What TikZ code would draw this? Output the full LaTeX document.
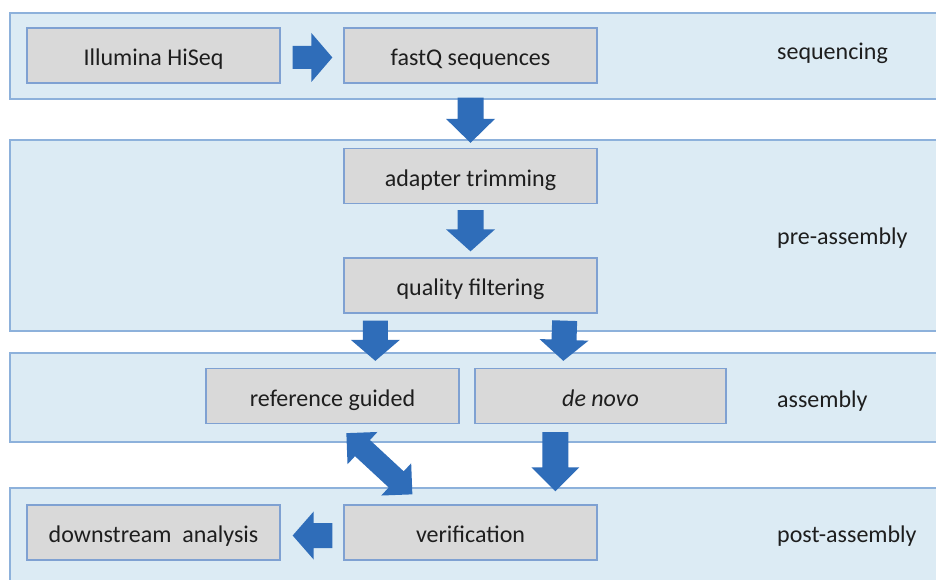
\documentclass[tikz,border=0pt]{standalone}
\usepackage{fontspec}
\setmainfont{Carlito}
\usetikzlibrary{calc}
\definecolor{bandfill}{HTML}{DCEBF4}
\definecolor{banddraw}{HTML}{8DB1DB}
\definecolor{boxfill}{HTML}{D9D9D9}
\definecolor{boxdraw}{HTML}{7FA1D2}
\definecolor{arrowblue}{HTML}{2F6DB9}
\definecolor{txt}{HTML}{1E1E1E}
\newcommand{\blockarr}[5]{%
  \coordinate (bh) at ($(#2)!#5!(#1)$);
  \fill[arrowblue] ($(#1)!#3!90:(#2)$) -- ($(bh)!#3!90:(#2)$) -- ($(bh)!#4!90:(#2)$) -- (#2)
    -- ($(bh)!#4!-90:(#2)$) -- ($(bh)!#3!-90:(#2)$) -- ($(#1)!#3!-90:(#2)$) -- cycle;}
\newcommand{\dblarr}[5]{%
  \coordinate (ha) at ($(#1)!#5!(#2)$);
  \coordinate (hb) at ($(#2)!#5!(#1)$);
  \fill[arrowblue] (#1) -- ($(ha)!#4!90:(#2)$) -- ($(ha)!#3!90:(#2)$) -- ($(hb)!#3!90:(#2)$)
    -- ($(hb)!#4!90:(#2)$) -- (#2) -- ($(hb)!#4!-90:(#2)$) -- ($(hb)!#3!-90:(#2)$)
    -- ($(ha)!#3!-90:(#2)$) -- ($(ha)!#4!-90:(#2)$) -- cycle;}
\tikzset{
  band/.style={fill=bandfill, draw=banddraw, line width=1.8pt},
  box/.style={fill=boxfill, draw=boxdraw, line width=1.3pt, minimum width=253pt,
    minimum height=55pt, inner sep=0pt, text height=24pt, text depth=4pt, text=txt,
    font=\fontsize{24}{28}\selectfont},
  lab/.style={anchor=west, inner sep=0pt, text=txt, font=\fontsize{24}{28}\selectfont}
}
\begin{document}
\begin{tikzpicture}[x=1pt, y=-1pt]
\clip (0,0) rectangle (936,580);
\fill[white] (0,0) rectangle (936,580);
% bands
\draw[band] (10,13) rectangle (950,99);
\draw[band] (10,140) rectangle (950,331);
\draw[band] (10,353) rectangle (950,442);
\draw[band] (10,488) rectangle (950,600);
% boxes
\node[box] (ill) at (153.5,55.5) {Illumina HiSeq};
\node[box] (fastq) at (470.5,55.5) {fastQ sequences};
\node[box] (adapter) at (470.5,176) {adapter trimming};
\node[box] (quality) at (470.5,285.5) {quality filtering};
\node[box] (ref) at (332.5,396) {reference guided};
\node[box, minimum width=251pt] (denovo) at (600.5,396) {\itshape de novo};
\node[box] (down) at (153.5,532.5) {downstream\ \ analysis};
\node[box] (verif) at (470.5,532.5) {verification};
% labels
\node[lab] (l1) at (777,53) {sequencing};
\node[lab] (l2) at (777,238) {pre-assembly};
\node[lab] (l3) at (777,401) {assembly};
\node[lab] (l4) at (777,536) {post-assembly};
% arrow end points
\coordinate (a1s) at ($(ill.east)+(12,2)$);
\coordinate (a1t) at ($(fastq.west)+(-11,2)$);
\coordinate (a2s) at ($(fastq.south)+(0,14)$);
\coordinate (a2t) at ($(adapter.north)+(0,-5)$);
\coordinate (a3s) at ($(adapter.south)+(0,6)$);
\coordinate (a3t) at ($(quality.north)+(0,-6)$);
\coordinate (a4s) at ($(quality.south west)+(32,7)$);
\coordinate (a4t) at ($(ref.north west)+(170,-7)$);
\coordinate (a5s) at ($(quality.south east)+(-33,7)$);
\coordinate (a5t) at ($(denovo.north west)+(89,-7)$);
\coordinate (a6s) at ($(denovo.south west)+(81,8)$);
\coordinate (a6t) at ($(verif.north west)+(212,-13)$);
\coordinate (a7s) at ($(ref.south west)+(141,9)$);
\coordinate (a7t) at ($(verif.north west)+(69,-10)$);
\coordinate (a8s) at ($(verif.west)+(-11,3)$);
\coordinate (a8t) at ($(down.east)+(12,3)$);
% block arrows
\blockarr{a1s}{a1t}{11.5pt}{24.5pt}{21pt}
\blockarr{a2s}{a2t}{13pt}{24.5pt}{24pt}
\blockarr{a3s}{a3t}{13pt}{24.5pt}{22pt}
\blockarr{a4s}{a4t}{12.5pt}{24.5pt}{21pt}
\blockarr{a5s}{a5t}{12.5pt}{24.5pt}{21pt}
\blockarr{a6s}{a6t}{13pt}{24pt}{24pt}
\blockarr{a8s}{a8t}{12.5pt}{24pt}{21pt}
\dblarr{a7s}{a7t}{11pt}{22pt}{22pt}
\end{tikzpicture}
\end{document}
